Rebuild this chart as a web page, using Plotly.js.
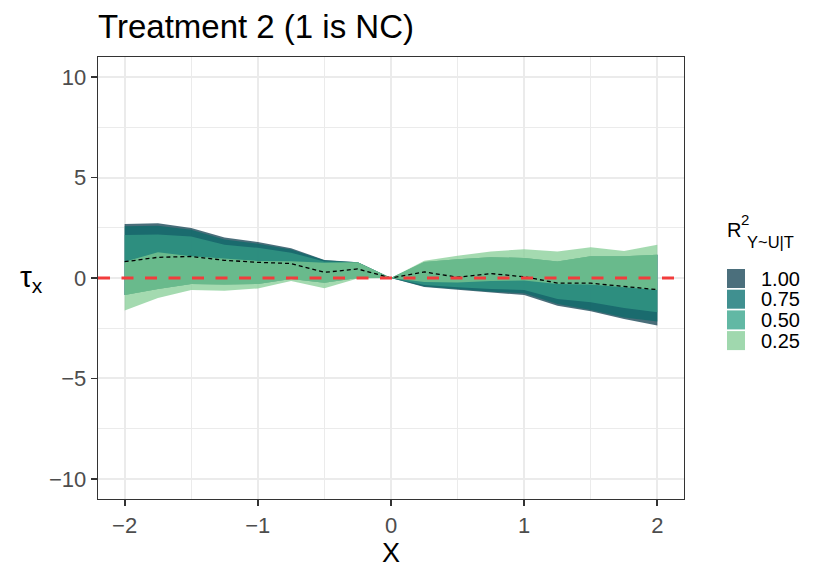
<!DOCTYPE html>
<html>
<head>
<meta charset="utf-8">
<script src="https://cdn.plot.ly/plotly-3.0.1.min.js"></script>
<style>
  html, body { margin: 0; padding: 0; background: #fff; }
  #plot { width: 830px; height: 580px; }
</style>
</head>
<body>
<div id="plot"></div>
<script>
// x grid of the sensitivity curves
var xs = [-2, -1.75, -1.5, -1.25, -1, -0.75, -0.5, -0.25, 0, 0.25, 0.5, 0.75, 1, 1.25, 1.5, 1.75, 2];

// point estimate (black dashed)
var estimate = [0.81, 1.03, 1.07, 0.88, 0.78, 0.72, 0.28, 0.45, 0, 0.30, 0.04, 0.22, 0.06, -0.25, -0.26, -0.42, -0.58];

// ribbon bounds per R^2 value
var ribbon100Hi = [2.69, 2.72, 2.49, 2.02, 1.79, 1.48, 0.90, 0.78, 0, 0.80, 0.93, 1.03, 1.00, 0.82, 1.08, 1.08, 1.16];
var ribbon100Lo = [-0.85, -0.55, -0.30, -0.32, -0.30, -0.05, -0.24, 0, 0, -0.45, -0.58, -0.72, -0.85, -1.38, -1.66, -2.04, -2.37];
var ribbon75Hi = [2.57, 2.60, 2.40, 1.92, 1.70, 1.42, 0.88, 0.78, 0, 0.80, 0.93, 1.03, 1.00, 0.82, 1.08, 1.08, 1.16];
var ribbon75Lo = [-0.85, -0.55, -0.30, -0.32, -0.30, -0.05, -0.24, 0, 0, -0.42, -0.55, -0.68, -0.76, -1.29, -1.59, -1.96, -2.16];
var ribbon50Hi = [2.14, 2.17, 2.06, 1.66, 1.50, 1.26, 0.82, 0.78, 0, 0.80, 0.93, 1.03, 1.00, 0.82, 1.08, 1.08, 1.16];
var ribbon50Lo = [-0.85, -0.55, -0.30, -0.32, -0.30, -0.05, -0.24, 0, 0, -0.35, -0.46, -0.55, -0.60, -1.04, -1.21, -1.49, -1.71];
var ribbon25Hi = [0.81, 1.28, 1.08, 0.95, 0.85, 0.83, 0.76, 0.78, 0, 0.86, 1.11, 1.32, 1.43, 1.32, 1.53, 1.35, 1.65];
var ribbon25Lo = [-1.62, -1.00, -0.60, -0.63, -0.52, -0.15, -0.51, -0.03, 0, -0.20, -0.22, -0.15, -0.13, -0.30, -0.32, -0.46, -0.60];

var legendLabels = ['1.00', '0.75', '0.50', '0.25'];
var legendColors = ['#4b6f7c', '#409090', '#62b8a4', '#a0d8ae'];
var ribbonFills = ['rgba(4,54,70,0.72)', 'rgba(9,107,105,0.72)', 'rgba(53,155,134,0.72)', 'rgba(129,204,145,0.72)'];

var ribbons = [
  [ribbon100Lo, ribbon100Hi],
  [ribbon75Lo, ribbon75Hi],
  [ribbon50Lo, ribbon50Hi],
  [ribbon25Lo, ribbon25Hi]
];

var FONT = 'Liberation Sans, Arial, Helvetica, sans-serif';

var traces = [];
ribbons.forEach(function (r, i) {
  traces.push({
    x: xs, y: r[0], type: 'scatter', mode: 'lines',
    line: {width: 0}, showlegend: false, hoverinfo: 'skip'
  });
  traces.push({
    x: xs, y: r[1], type: 'scatter', mode: 'lines',
    line: {width: 0}, fill: 'tonexty', fillcolor: ribbonFills[i],
    name: legendLabels[i], showlegend: false
  });
});
traces.push({
  x: xs, y: estimate, type: 'scatter', mode: 'lines',
  line: {color: '#000', width: 1.3, dash: '4px,3px'},
  showlegend: false
});

// panel sits at px 98..684 x 57..499
var L = 98, R = 684, T = 57, B = 499;
function px(x) { return (x - L) / (R - L); }
function py(y) { return (B - y) / (B - T); }

var shapes = [{
  type: 'line', xref: 'paper', yref: 'y', x0: 0, x1: 1, y0: 0, y1: 0,
  line: {color: '#f23c3c', width: 3, dash: '12px,11.5px'}
}];
var annotations = [
  {text: 'τ<sub>x</sub>', xref: 'paper', yref: 'y', x: px(31), y: 0,
   xanchor: 'center', yanchor: 'middle', showarrow: false,
   font: {family: FONT, size: 30, color: '#000'}},
  {text: 'R', xref: 'paper', yref: 'paper', x: px(725), y: py(230),
   xanchor: 'left', yanchor: 'middle', showarrow: false,
   font: {family: FONT, size: 20, color: '#000'}},
  {text: '2', xref: 'paper', yref: 'paper', x: px(739), y: py(219),
   xanchor: 'left', yanchor: 'middle', showarrow: false,
   font: {family: FONT, size: 15, color: '#000'}},
  {text: 'Y~U|T', xref: 'paper', yref: 'paper', x: px(745), y: py(242),
   xanchor: 'left', yanchor: 'middle', showarrow: false,
   font: {family: FONT, size: 16.5, color: '#000'}}
];
legendLabels.forEach(function (lab, i) {
  var top = 269 + i * 20.7;
  shapes.push({
    type: 'rect', xref: 'paper', yref: 'paper',
    x0: px(727), x1: px(745), y0: py(top), y1: py(top + 19),
    fillcolor: legendColors[i], line: {width: 0}
  });
  annotations.push({
    text: lab, xref: 'paper', yref: 'paper', x: px(759), y: py(top + 9.5),
    xanchor: 'left', yanchor: 'middle', showarrow: false,
    font: {family: FONT, size: 20, color: '#000'}
  });
});

var axisCommon = {
  showline: true, mirror: true, linecolor: '#333', linewidth: 1.3,
  ticks: 'outside', ticklen: 6, tickwidth: 1.8, tickcolor: '#333',
  tickfont: {family: FONT, size: 22, color: '#4d4d4d'},
  gridcolor: '#ebebeb', gridwidth: 2, zeroline: false, automargin: false
};

var layout = {
  width: 830, height: 580,
  margin: {l: L, r: 830 - R, t: T, b: 580 - B},
  paper_bgcolor: '#fff', plot_bgcolor: '#fff',
  font: {family: FONT},
  title: {text: 'Treatment 2 (1 is NC)', xref: 'paper', x: 0, xanchor: 'left',
          yref: 'container', y: 1 - 26 / 580, yanchor: 'middle',
          font: {family: FONT, size: 33, color: '#000'}},
  xaxis: Object.assign({}, axisCommon, {
    range: [-2.2, 2.2], tick0: -2, dtick: 1,
    minor: {dtick: 0.5, showgrid: true, gridcolor: '#ebebeb', gridwidth: 1, ticks: ''},
    title: {text: 'X', standoff: 5, font: {family: FONT, size: 27, color: '#000'}}
  }),
  yaxis: Object.assign({}, axisCommon, {
    range: [-11, 11], tick0: -10, dtick: 5,
    minor: {dtick: 2.5, showgrid: true, gridcolor: '#ebebeb', gridwidth: 1, ticks: ''}
  }),
  shapes: shapes,
  annotations: annotations
};

Plotly.newPlot('plot', traces, layout, {displayModeBar: false, staticPlot: true});
</script>
</body>
</html>
